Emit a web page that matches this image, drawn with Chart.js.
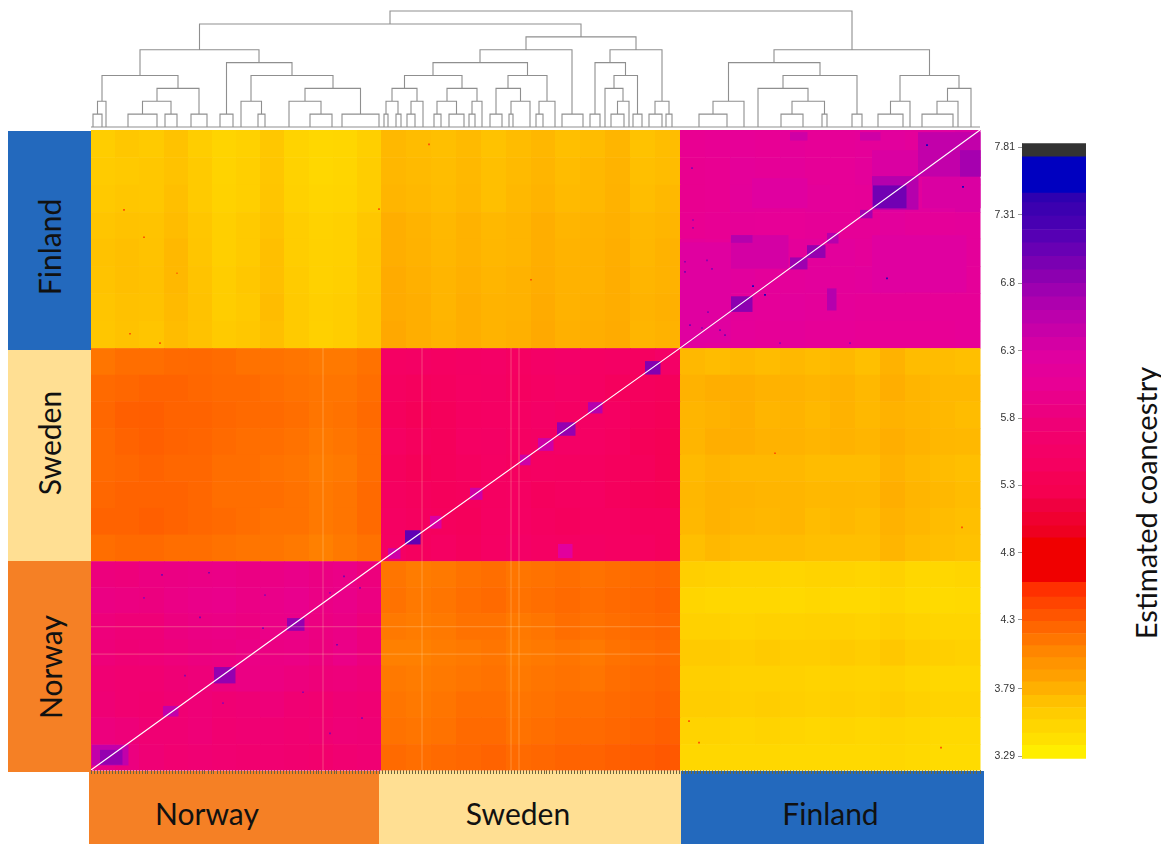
<!DOCTYPE html>
<html>
<head>
<meta charset="utf-8">
<title>Estimated coancestry</title>
<script src="https://cdn.jsdelivr.net/npm/chart.js@4/dist/chart.umd.min.js"></script>
<style>
  html, body { margin: 0; background: #fff; width: 1161px; height: 844px; overflow: hidden; }
  canvas, .band { position: absolute; }
  .band { display: flex; align-items: center; justify-content: center; font: 30px Lato, sans-serif; color: #111; }
  .band span { display: block; white-space: nowrap; }
  #dendro { left: 91px; top: 5px; }
  #heat { left: 87px; top: 126px; }
  #scale { left: 985px; top: 134px; }
  #scaleTitle { position: absolute; left: 1145px; top: 503px; font: 29px Lato, sans-serif; color: #111; white-space: nowrap; transform: translate(-50%, -50%) rotate(-90deg); }
</style>
</head>
<body>
<div class="band" style="left:8px;top:131px;width:83px;height:219px;background:#2369bd"><span style="transform:translate(0,6px) rotate(-90deg)">Finland</span></div>
<div class="band" style="left:8px;top:350px;width:83px;height:211px;background:#ffdf93"><span style="transform:translate(0,-13px) rotate(-90deg)">Sweden</span></div>
<div class="band" style="left:8px;top:561px;width:83px;height:211px;background:#f58025"><span style="transform:rotate(-90deg)">Norway</span></div>
<div class="band" style="left:89px;top:771px;width:290px;height:73px;background:#f58025"><span style="transform:translate(-27px,5px)">Norway</span></div>
<div class="band" style="left:379px;top:771px;width:302px;height:73px;background:#ffdf93"><span style="transform:translate(-12px,5px)">Sweden</span></div>
<div class="band" style="left:681px;top:771px;width:303px;height:73px;background:#2369bd"><span style="transform:translate(-2px,5px)">Finland</span></div>
<canvas id="dendro" width="889" height="125"></canvas>
<canvas id="heat" width="897" height="648"></canvas>
<canvas id="scale" width="110" height="634"></canvas>
<div id="scaleTitle">Estimated coancestry</div>
<script>
// colour key: segment limits (low to high) and the colour of each segment
const keyBreaks = [3.27,3.37,3.46,3.56,3.65,3.74,3.84,3.93,4.02,4.11,4.20,4.29,4.38,4.47,4.58,4.91,5.00,5.10,5.20,5.30,5.40,5.50,5.60,5.70,5.80,5.90,6.00,6.10,6.20,6.30,6.40,6.50,6.60,6.70,6.80,6.90,7.00,7.10,7.20,7.30,7.40,7.47,7.74,7.84];
const keyColors = ['#ffee00','#ffe000','#ffd600','#ffcc00','#ffc000','#ffb000','#ffa000','#ff9400','#ff8600','#ff7600','#ff6600','#ff5500','#ff4400','#ff3000','#f00000','#ee0020','#f00030','#f00040','#f50050','#f50055','#f50060','#f40066','#f2006c','#ef0076','#ec0080','#ea008a','#e80095','#e4009a','#e000a0','#d400a4','#c800a8','#bc00ac','#ae00ae','#9e00b0','#8c00b0','#7a00b2','#6800b4','#5600b4','#4800b2','#3c00b0','#2e00b0','#0000c0','#333333'];
const keyTicks = [3.29,3.79,4.3,4.8,5.3,5.8,6.3,6.8,7.31,7.81];

// heat map: cell limits in sample order, columns left to right, rows top to bottom
const colEdges = [0,24,48,73,97,121,145,169,193,218,242,266,290,315,340,365,390,415,440,464,489,514,539,564,589,614,639,664,689,714,739,764,789,814,839,864,889];
const rowEdges = [889,851,813,775,738,700,662,624,586,549,512,475,438,401,364,327,290,254,218,181,145,109,73,36,0];
const cellValues = [
 [3.60,3.64,3.62,3.68,3.60,3.53,3.56,3.64,3.54,3.50,3.51,3.58, 3.74,3.72,3.70,3.73,3.68,3.72,3.75,3.70,3.72,3.76,3.68,3.71, 6.02,6.04,6.08,6.05,6.12,6.08,6.10,6.12,6.20,6.15,6.25,6.30],
 [3.61,3.63,3.64,3.68,3.62,3.54,3.58,3.65,3.55,3.50,3.52,3.60, 3.75,3.73,3.71,3.74,3.70,3.73,3.76,3.72,3.74,3.77,3.70,3.72, 6.00,6.02,6.12,6.10,6.15,6.10,6.08,6.15,6.30,6.20,6.30,6.30],
 [3.63,3.65,3.64,3.70,3.62,3.55,3.58,3.66,3.56,3.52,3.53,3.60, 3.76,3.74,3.72,3.75,3.70,3.74,3.77,3.73,3.74,3.78,3.71,3.74, 6.00,6.02,6.15,6.12,6.10,6.15,6.08,6.10,6.25,6.20,6.25,6.30],
 [3.66,3.68,3.67,3.72,3.65,3.58,3.62,3.68,3.60,3.55,3.57,3.64, 3.80,3.77,3.74,3.78,3.74,3.76,3.80,3.76,3.77,3.79,3.74,3.76, 6.02,6.04,6.10,6.08,6.06,6.10,6.10,6.10,6.18,6.12,6.12,6.15],
 [3.68,3.70,3.68,3.74,3.66,3.58,3.62,3.70,3.60,3.56,3.57,3.65, 3.80,3.78,3.75,3.78,3.75,3.76,3.80,3.77,3.78,3.80,3.75,3.78, 6.12,6.08,6.15,6.12,6.15,6.18,6.18,6.12,6.12,6.10,6.12,6.15],
 [3.67,3.70,3.69,3.74,3.67,3.60,3.64,3.70,3.61,3.56,3.58,3.65, 3.82,3.79,3.76,3.79,3.76,3.78,3.81,3.78,3.78,3.81,3.76,3.78, 6.15,6.10,6.20,6.15,6.15,6.18,6.15,6.18,6.18,6.12,6.15,6.12],
 [3.66,3.69,3.68,3.73,3.68,3.60,3.63,3.72,3.62,3.58,3.60,3.66, 3.82,3.80,3.76,3.80,3.77,3.78,3.82,3.78,3.79,3.81,3.77,3.79, 6.20,6.12,6.15,6.12,6.18,6.15,6.12,6.10,6.10,6.10,6.08,6.08],
 [3.65,3.68,3.66,3.72,3.68,3.62,3.64,3.70,3.62,3.57,3.60,3.66, 3.84,3.80,3.77,3.80,3.77,3.79,3.83,3.79,3.80,3.82,3.76,3.78, 6.22,6.18,6.12,6.10,6.14,6.10,6.08,6.05,6.05,6.05,6.05,6.08],
 [4.16,4.20,4.20,4.22,4.23,4.21,4.18,4.18,4.16,4.14,4.14,4.18, 5.50,5.52,5.48,5.52,5.55,5.48,5.55,5.58,5.50,5.52,5.45,5.55, 3.74,3.72,3.74,3.72,3.74,3.72,3.74,3.70,3.78,3.72,3.72,3.70],
 [4.22,4.24,4.26,4.26,4.24,4.22,4.22,4.20,4.18,4.16,4.16,4.20, 5.45,5.42,5.44,5.50,5.52,5.45,5.50,5.55,5.48,5.42,5.42,5.40, 3.78,3.80,3.80,3.78,3.78,3.76,3.78,3.74,3.80,3.76,3.74,3.74],
 [4.24,4.28,4.29,4.26,4.26,4.24,4.22,4.22,4.20,4.16,4.18,4.22, 5.42,5.38,5.40,5.46,5.50,5.50,5.55,5.50,5.52,5.48,5.40,5.38, 3.76,3.78,3.80,3.76,3.77,3.74,3.78,3.74,3.78,3.76,3.74,3.72],
 [4.22,4.26,4.28,4.26,4.25,4.22,4.20,4.20,4.18,4.14,4.16,4.20, 5.48,5.42,5.40,5.50,5.52,5.48,5.52,5.55,5.50,5.45,5.38,5.34, 3.76,3.80,3.80,3.78,3.78,3.76,3.78,3.76,3.80,3.77,3.75,3.74],
 [4.22,4.24,4.26,4.24,4.24,4.20,4.20,4.18,4.16,4.12,4.14,4.20, 5.42,5.38,5.40,5.44,5.50,5.45,5.48,5.46,5.45,5.42,5.40,5.35, 3.73,3.76,3.74,3.74,3.74,3.72,3.72,3.72,3.78,3.74,3.72,3.70],
 [4.24,4.26,4.26,4.26,4.24,4.20,4.20,4.20,4.18,4.14,4.16,4.22, 5.45,5.42,5.40,5.42,5.46,5.48,5.42,5.45,5.48,5.42,5.38,5.36, 3.75,3.78,3.77,3.76,3.76,3.74,3.75,3.74,3.80,3.76,3.74,3.72],
 [4.26,4.26,4.28,4.26,4.24,4.22,4.20,4.18,4.18,4.14,4.16,4.22, 5.48,5.44,5.42,5.40,5.48,5.50,5.45,5.42,5.46,5.46,5.42,5.42, 3.74,3.78,3.76,3.75,3.76,3.72,3.74,3.72,3.78,3.75,3.72,3.70],
 [4.20,4.22,4.22,4.20,4.20,4.18,4.16,4.16,4.14,4.10,4.14,4.18, 5.50,5.44,5.48,5.42,5.50,5.55,5.50,5.48,5.52,5.48,5.46,5.42, 3.70,3.74,3.72,3.72,3.72,3.70,3.70,3.70,3.76,3.72,3.70,3.68],
 [5.82,5.80,5.86,5.88,5.90,5.92,5.88,5.90,5.94,5.88,5.92,5.82, 4.16,4.12,4.14,4.18,4.20,4.16,4.18,4.20,4.18,4.20,4.22,4.24, 3.58,3.56,3.54,3.54,3.52,3.54,3.54,3.52,3.56,3.50,3.50,3.52],
 [5.88,5.86,5.84,5.90,5.94,5.96,5.90,5.94,5.98,5.90,5.94,5.86, 4.18,4.14,4.16,4.20,4.22,4.18,4.20,4.22,4.20,4.22,4.24,4.26, 3.52,3.50,3.50,3.50,3.48,3.50,3.48,3.48,3.52,3.48,3.47,3.48],
 [5.80,5.76,5.76,5.84,5.88,5.90,5.86,5.92,5.94,5.86,5.90,5.80, 4.14,4.12,4.14,4.18,4.18,4.14,4.16,4.20,4.18,4.20,4.22,4.24, 3.56,3.56,3.54,3.56,3.55,3.56,3.56,3.54,3.58,3.54,3.52,3.52],
 [5.78,5.74,5.76,5.80,5.84,5.86,5.90,5.88,5.90,5.84,5.92,5.82, 4.10,4.10,4.12,4.14,4.16,4.12,4.14,4.16,4.14,4.18,4.20,4.22, 3.62,3.62,3.60,3.62,3.60,3.60,3.62,3.60,3.64,3.60,3.58,3.56],
 [5.72,5.70,5.70,5.74,5.78,5.84,5.88,5.86,5.82,5.78,5.80,5.76, 4.14,4.12,4.14,4.16,4.18,4.14,4.16,4.18,4.16,4.20,4.22,4.24, 3.58,3.58,3.56,3.56,3.56,3.54,3.55,3.54,3.56,3.52,3.50,3.50],
 [5.74,5.70,5.68,5.72,5.76,5.72,5.74,5.78,5.72,5.70,5.74,5.72, 4.16,4.14,4.16,4.20,4.20,4.16,4.18,4.20,4.20,4.22,4.24,4.26, 3.60,3.60,3.58,3.60,3.58,3.56,3.58,3.56,3.60,3.56,3.54,3.54],
 [5.82,5.78,5.72,5.72,5.76,5.70,5.72,5.72,5.70,5.72,5.76,5.74, 4.18,4.16,4.18,4.22,4.22,4.18,4.20,4.22,4.22,4.24,4.26,4.28, 3.54,3.54,3.52,3.54,3.52,3.50,3.52,3.50,3.52,3.50,3.48,3.48],
 [5.90,5.84,5.74,5.70,5.72,5.70,5.68,5.70,5.68,5.66,5.70,5.72, 4.22,4.20,4.22,4.24,4.26,4.22,4.24,4.26,4.26,4.28,4.30,4.32, 3.50,3.50,3.50,3.50,3.48,3.48,3.48,3.48,3.50,3.48,3.46,3.46]
];

// related groups standing out from their block: [x from, x to, y from, y to, value]
const clusterPatches = [
 [589,639,594,733,6.25],[640,697,697,743,6.35],[781,875,664,743,6.25],[661,716,781,822,6.25],
 [831,889,781,822,6.30],[781,827,826,861,6.30],[827,889,825,886,6.50],[869,889,825,861,6.70],
 [769,789,875,886,6.40],[699,716,875,886,6.40],[781,827,779,825,6.60],[782,815,781,812,7.00],
 [769,781,767,778,6.70],[716,734,712,729,6.80],[699,716,696,712,6.75],[640,661,637,658,6.85],
 [640,661,733,743,6.60],[736,747,732,746,6.60],[736,745,639,669,6.60],
 [466,484,465,483,6.80],[554,569,550,568,6.90],[314,329,314,333,7.10],[497,511,496,511,6.60],
 [447,462,444,461,6.40],[429,439,424,438,6.40],[379,391,376,392,6.40],[339,350,336,353,6.30],
 [297,309,294,308,6.40],[467,481,295,314,6.20],
 [123,144,121,143,6.80],[196,213,194,211,6.80],[72,87,75,89,6.50],[1,37,7,35,6.50],[9,31,8,28,6.80]
];

// isolated pairs: sample position and value
const speckleX = [594,594,602,602,616,621,662,674,599,611,629,634,617,601,836,872,796,759,689, 71,118,174,253,109,53,172,212,132,94,246,239,269,271,239, 33,53,39,69,288,338,440,86,684,871,598,608,850];
const speckleY = [706,692,764,753,708,696,672,660,618,614,611,604,636,836,868,810,683,593,593, 271,274,243,269,212,239,197,108,93,131,174,246,253,72,51, 778,740,606,593,779,869,681,690,440,337,68,38,31];
const speckleV = [6.9,7.0,6.8,6.8,6.9,6.9,7.6,7.6,7.0,6.9,7.0,7.0,6.9,6.9,7.6,7.6,7.5,6.8,6.8, 7.0,7.0,6.8,7.0,7.0,6.8,7.0,6.9,6.8,6.9,7.0,6.8,6.9,6.9,6.9, 4.4,4.4,4.4,4.4,4.4,4.4,4.4,4.2,4.4,4.4,4.4,4.4,4.4];

// pale samples that run through the lower blocks
const paleCols = [232,331,420,428];
const paleRows = [199,161];
const diagonalX = [0,290,589,889];
const diagonalY = [0,290,586,889];

// dendrogram merges: [left x, right x, height, left child height, right child height]
const merges = [
 [2,11,1,0,0],[37,66,1,0,0],[74,86,1,0,0],[100,116,1,0,0],[129,142,1,0,0],[167,174,1,0,0],[219,241,1,0,0],[251,288,1,0,0],
 [293,297,1,0,0],[305,310,1,0,0],[316,324,1,0,0],[343,350,1,0,0],[358,373,1,0,0],[378,384,1,0,0],[399,411,1,0,0],[418,422,1,0,0],
 [445,452,1,0,0],[471,492,1,0,0],[499,509,1,0,0],[520,533,1,0,0],[542,551,1,0,0],[558,571,1,0,0],[575,581,1,0,0],[608,636,1,0,0],
 [690,712,1,0,0],[731,736,1,0,0],[761,771,1,0,0],[787,812,1,0,0],[831,862,1,0,0],
 [6.5,15,2,1,0],[51.5,80,2,1,1],[150,170.5,2,0,1],[198,230,2,0,1],[295,307,2,1,1],[320,332,2,1,0],[346,365.5,2,1,1],[381,391,2,1,0],
 [420,439,2,1,0],[448,464,2,1,0],[526.5,538,2,1,0],[564,578,2,1,1],[622,653,2,1,0],[701,733.5,2,1,1],[799.5,819,2,1,0],[846,867,2,1,0],
 [66,108,3,2,1],[214,269.5,3,2,1],[301,326,3,2,2],[356,386,3,2,2],[405,429.5,3,1,2],[514,532,3,0,2],[667,717,3,0,2],[856.5,880,3,2,0],
 [11,87,4,2,3],[160,242,4,2,3],[313.5,371,4,3,3],[417,456,4,3,2],[523,546.5,4,3,1],[692,766,4,3,1],[809,868,4,2,3],
 [135.5,201,5,1,4],[342,436.5,5,4,4],[504,534.5,5,1,4],[637.5,729,5,2,4],
 [49,168,6,4,5],[389,481,6,5,1],[519,571,6,5,2],[683,838.5,6,5,4],
 [435,545,7,6,6],[108.5,490,8,6,7],[299,761,9,8,6]
];

// blends the colour key so that cells shade smoothly, as they do in the dithered original
function hexToRgb(h) { return [1, 3, 5].map(i => parseInt(h.substr(i, 2), 16)); }
function valueColor(v) {
  let n = keyColors.length - 1;
  let mids = keyColors.map((c, i) => (keyBreaks[i] + keyBreaks[i + 1]) / 2);
  if (v <= mids[0]) return keyColors[0];
  if (v >= mids[n]) return keyColors[n];
  let i = mids.findIndex((m, k) => v >= m && v < mids[k + 1]);
  let t = (v - mids[i]) / (mids[i + 1] - mids[i]);
  let a = hexToRgb(keyColors[i]), b = hexToRgb(keyColors[i + 1]);
  return 'rgb(' + a.map((c, k) => Math.round(c + (b[k] - c) * t)).join(',') + ')';
}

// rectangles of the heat map, placed by the chart's own x and y scales
const cellRects = {
  id: 'cellRects',
  beforeDatasetsDraw(chart) {
    const { ctx, scales: { x, y } } = chart;
    chart.data.datasets.filter(d => d.rects).forEach(d => d.rects.forEach(r => {
      let left = x.getPixelForValue(r.x0), right = x.getPixelForValue(r.x1);
      let top = y.getPixelForValue(r.y1), bottom = y.getPixelForValue(r.y0);
      ctx.fillStyle = valueColor(r.v);
      ctx.fillRect(left, top, right - left + 0.5, bottom - top + 0.5);
    }));
  }
};

let heatRects = [];
cellValues.forEach((row, r) => row.forEach((v, c) => {
  heatRects.push({ x0: colEdges[c], x1: colEdges[c + 1], y0: rowEdges[r + 1], y1: rowEdges[r], v: v });
}));
let patchRects = clusterPatches.map(p => ({ x0: p[0], x1: p[1], y0: p[2], y1: p[3], v: p[4] }));

let paleLines = [];
paleCols.forEach(c => paleLines.push({ x: c, y: 0 }, { x: c, y: 586 }, { x: null, y: null }));
paleRows.forEach(r => paleLines.push({ x: 0, y: r }, { x: 589, y: r }, { x: null, y: null }));

new Chart(document.getElementById('heat'), {
  type: 'scatter',
  data: {
    datasets: [
      { label: 'cells', data: [], rects: heatRects.concat(patchRects) },
      { label: 'pale samples', data: paleLines, showLine: true, spanGaps: false, pointRadius: 0, borderColor: 'rgba(255,235,180,0.3)', borderWidth: 1 },
      { label: 'pairs', data: speckleX.map((x, i) => ({ x: x, y: speckleY[i] })), pointStyle: 'rect', pointRadius: 1.2, borderWidth: 0, backgroundColor: speckleV.map(valueColor) },
      { label: 'diagonal', data: diagonalX.map((x, i) => ({ x: x, y: diagonalY[i] })), showLine: true, pointRadius: 0, borderColor: '#fff', borderWidth: 1.2 }
    ]
  },
  options: {
    animation: false,
    responsive: false,
    events: [],
    layout: { padding: 0 },
    plugins: { legend: { display: false }, tooltip: { enabled: false } },
    scales: {
      x: {
        type: 'linear', min: 0, max: 889,
        border: { display: false },
        grid: { drawOnChartArea: false, tickLength: 4, color: '#6b6540', lineWidth: 1 },
        ticks: { display: false, stepSize: 3, autoSkip: false, maxTicksLimit: 400 }
      },
      y: { type: 'linear', min: 0, max: 889, display: false }
    }
  },
  plugins: [cellRects]
});

// one outline per merge, null points keep the outlines apart
let dendroPoints = [{ x: 0, y: 0 }, { x: 889, y: 0 }, { x: null, y: null }];
merges.forEach(m => {
  dendroPoints.push({ x: m[0], y: m[3] }, { x: m[0], y: m[2] }, { x: m[1], y: m[2] }, { x: m[1], y: m[4] }, { x: null, y: null });
});

new Chart(document.getElementById('dendro'), {
  type: 'scatter',
  data: { datasets: [{ label: 'dendrogram', data: dendroPoints, showLine: true, spanGaps: false, pointRadius: 0, borderColor: '#8f8f8f', borderWidth: 1.1 }] },
  options: {
    animation: false,
    responsive: false,
    events: [],
    layout: { padding: 0 },
    plugins: { legend: { display: false }, tooltip: { enabled: false } },
    scales: {
      x: { type: 'linear', min: 0, max: 889, display: false },
      y: { type: 'linear', min: -0.23, max: 9.47, display: false }
    }
  }
});

new Chart(document.getElementById('scale'), {
  type: 'bar',
  data: {
    labels: ['key'],
    datasets: keyColors.map((c, i) => ({
      label: keyBreaks[i] + '-' + keyBreaks[i + 1],
      data: [[keyBreaks[i], keyBreaks[i + 1]]],
      backgroundColor: c,
      borderWidth: 0,
      barPercentage: 1,
      categoryPercentage: 1
    }))
  },
  options: {
    animation: false,
    responsive: false,
    events: [],
    layout: { padding: { top: 8, bottom: 8, left: 0, right: 9 } },
    plugins: { legend: { display: false }, tooltip: { enabled: false } },
    scales: {
      x: { stacked: true, display: false },
      y: {
        type: 'linear', min: 3.27, max: 7.84,
        afterFit(s) { s.width = 37; },
        afterBuildTicks(s) { s.ticks = keyTicks.map(v => ({ value: v })); },
        border: { display: true, color: '#bdbdbd' },
        grid: { drawOnChartArea: false, tickLength: 4, color: '#9a9a9a' },
        ticks: { padding: 3, color: '#333', font: { family: 'Liberation Sans', size: 10.5 }, callback: v => String(v) }
      }
    }
  }
});
</script>
</body>
</html>
